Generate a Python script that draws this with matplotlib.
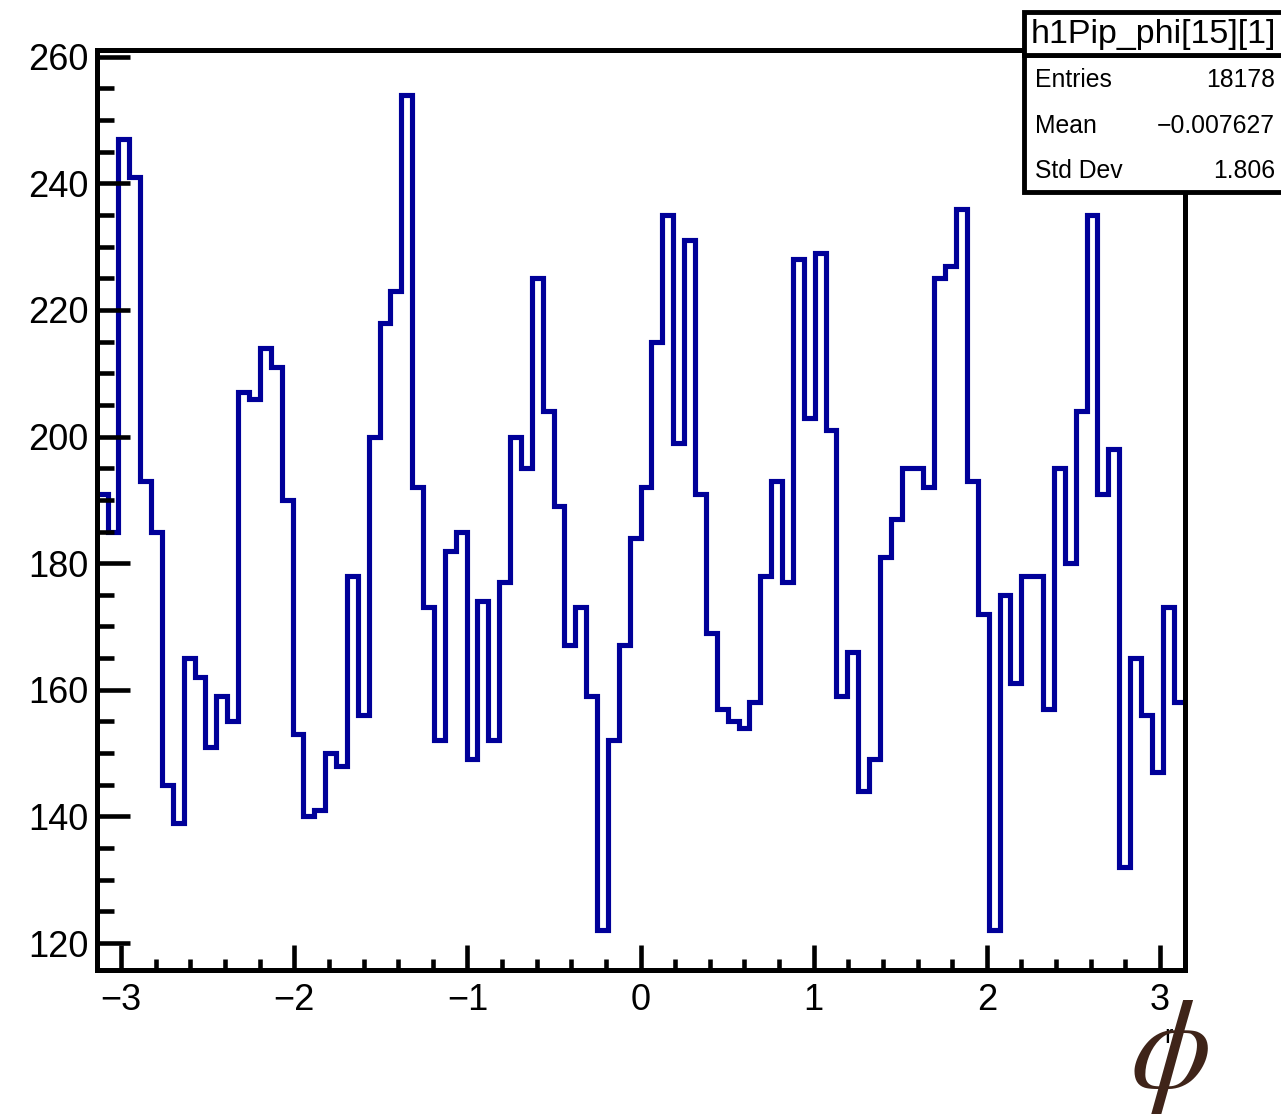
import numpy as np
import matplotlib.pyplot as plt
from matplotlib.patches import Rectangle
from matplotlib.ticker import MultipleLocator

plt.rcParams['font.family'] = ['Liberation Sans', 'DejaVu Sans']
plt.rcParams['mathtext.fontset'] = 'stix'

# bin contents, 100 bins from -pi to pi
counts = [191, 185, 247, 241, 193, 185, 145, 139, 165, 162,
          151, 159, 155, 207, 206, 214, 211, 190, 153, 140,
          141, 150, 148, 178, 156, 200, 218, 223, 254, 192,
          173, 152, 182, 185, 149, 174, 152, 177, 200, 195,
          225, 204, 189, 167, 173, 159, 122, 152, 167, 184,
          192, 215, 235, 199, 231, 191, 169, 157, 155, 154,
          158, 178, 193, 177, 228, 203, 229, 201, 159, 166,
          144, 149, 181, 187, 195, 195, 192, 225, 227, 236,
          193, 172, 122, 175, 161, 178, 178, 157, 195, 180,
          204, 235, 191, 198, 132, 165, 156, 147, 173, 158]
edges = np.linspace(-np.pi, np.pi, len(counts) + 1)

hist_name = "h1Pip_phi[15][1]"
stat_labels = ["Entries", "Mean", "Std Dev"]
stat_values = ["18178", "\u22120.007627", "1.806"]

W, H = 1281, 1118
def fx(px):
    return px / W
def fy(py):
    return 1 - py / H

fig = plt.figure(figsize=(W / 100, H / 100), dpi=100)
ax = fig.add_axes([fx(96.7), fy(970.3), (1184.5 - 96.7) / W, (970.3 - 50.3) / H])

ax.stairs(counts, edges, color="#000099", linewidth=3.7, baseline=None,
          joinstyle="miter")
ax.set_xlim(-np.pi, np.pi)
ax.set_ylim(115.7, 261.0)

for s in ax.spines.values():
    s.set_linewidth(3.6)

ax.xaxis.set_major_locator(MultipleLocator(1))
ax.xaxis.set_minor_locator(MultipleLocator(0.2))
ax.yaxis.set_major_locator(MultipleLocator(20))
ax.yaxis.set_minor_locator(MultipleLocator(5))
ax.tick_params(axis="both", which="both", direction="in", width=3.3, labelsize=26)
ax.tick_params(axis="x", which="major", length=18, pad=9)
ax.tick_params(axis="x", which="minor", length=7.7)
ax.tick_params(axis="y", which="major", length=23.5, pad=6)
ax.tick_params(axis="y", which="minor", length=12)

# stats box (ROOT style)
box_title = Rectangle((fx(1024), fy(55)), (1300 - 1024) / W, (55 - 11.7) / H,
                      transform=fig.transFigure, facecolor="white",
                      edgecolor="black", linewidth=3.5, zorder=10)
box_stats = Rectangle((fx(1024), fy(192)), (1300 - 1024) / W, (192 - 55) / H,
                      transform=fig.transFigure, facecolor="white",
                      edgecolor="black", linewidth=3.5, zorder=10)
fig.add_artist(box_stats)
fig.add_artist(box_title)
fig.text(fx(1031), fy(34), hist_name, fontsize=24.5, ha="left", va="center", zorder=11)
rows_y = [80, 126, 171]
for lab, val, yy in zip(stat_labels, stat_values, rows_y):
    fig.text(fx(1035), fy(yy), lab, fontsize=17.8, ha="left", va="center", zorder=11)
    fig.text(fx(1275), fy(yy), val, fontsize=17.8, ha="right", va="center", zorder=11)

# axis title
fig.text(fx(1168), fy(1036), "r", fontsize=18, ha="center", va="center", color="black")
fig.text(fx(1169), fy(1055), r"$\phi$", fontsize=93, ha="center", va="center",
         color="#3f2419")

fig.savefig("out.png", dpi=100)
